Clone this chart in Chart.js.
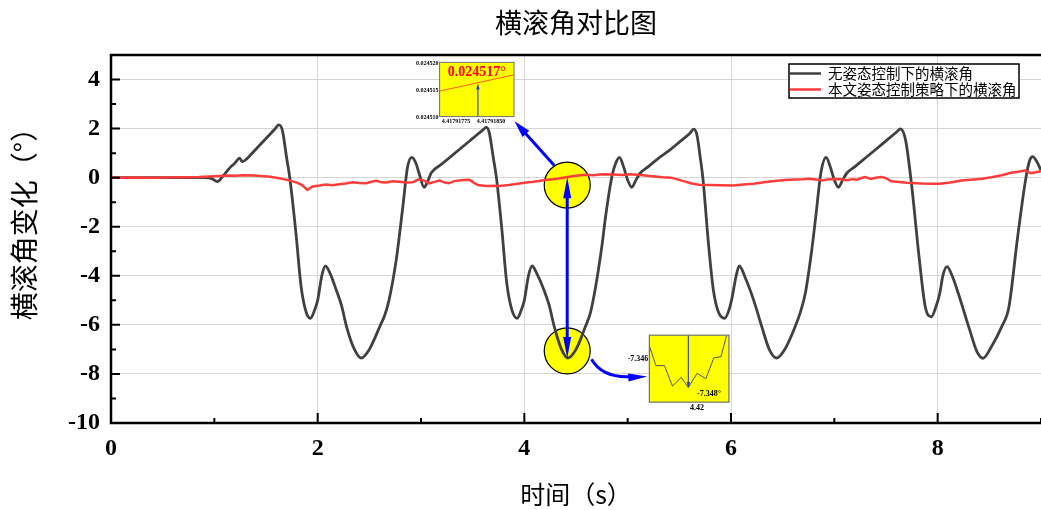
<!DOCTYPE html>
<html>
<head>
<meta charset="utf-8">
<title>横滚角对比图</title>
<script src="https://cdn.jsdelivr.net/npm/chart.js@4"></script>
<style>
  html, body { margin: 0; padding: 0; background: #fff; }
  canvas { display: block; }
</style>
</head>
<body>
<canvas id="rollChart" width="1041" height="510"></canvas>
<script>
// 无姿态控制下的横滚角: time (s) / angle (deg)
const timeFree = [0, 0.5, 0.9, 0.97, 1.03, 1.08, 1.15, 1.2, 1.245, 1.27, 1.3, 1.4, 1.5, 1.58, 1.625, 1.66, 1.7, 1.73, 1.79, 1.84,
  1.89, 1.93, 1.97, 2.0, 2.04, 2.075, 2.12, 2.18, 2.23, 2.28, 2.35, 2.42, 2.5, 2.6, 2.65, 2.69, 2.76, 2.82, 2.87, 2.91,
  2.95, 2.98, 3.03, 3.06, 3.1, 3.2, 3.3, 3.4, 3.5, 3.6, 3.63, 3.66, 3.7, 3.73, 3.78, 3.83, 3.88, 3.93, 3.97, 4.0,
  4.04, 4.075, 4.12, 4.19, 4.24, 4.29, 4.36, 4.42, 4.5, 4.59, 4.64, 4.69, 4.75, 4.79, 4.85, 4.885, 4.92, 4.96, 5.0, 5.04,
  5.08, 5.12, 5.2, 5.3, 5.4, 5.5, 5.6, 5.64, 5.67, 5.7, 5.73, 5.78, 5.83, 5.88, 5.94, 5.98, 6.01, 6.05, 6.08, 6.14,
  6.22, 6.3, 6.37, 6.44, 6.52, 6.62, 6.67, 6.72, 6.78, 6.82, 6.87, 6.92, 6.96, 7.0, 7.04, 7.08, 7.12, 7.2, 7.3, 7.4,
  7.5, 7.6, 7.64, 7.69, 7.75, 7.82, 7.88, 7.94, 7.98, 8.02, 8.05, 8.09, 8.14, 8.2, 8.3, 8.38, 8.44, 8.52, 8.62, 8.69,
  8.77, 8.85, 8.89, 8.92, 8.96, 9.0];
const rollFree = [0, 0, 0, -0.03, -0.16, 0.05, 0.4, 0.6, 0.8, 0.65, 0.72, 1.15, 1.6, 1.95, 2.15, 1.9, 0.8, 0, -2.27, -4.45,
  -5.5, -5.73, -5.4, -5.0, -4.0, -3.6, -3.9, -4.58, -5.2, -6.08, -6.95, -7.35, -7.0, -6.08, -5.6, -5.0, -3.36, -1.34, 0.43, 0.83,
  0.6, 0.2, -0.39, -0.2, 0.2, 0.55, 0.9, 1.25, 1.6, 1.95, 2.05, 1.85, 0.8, 0.0, -2.0, -4.3, -5.4, -5.73, -5.4, -5.0,
  -4.0, -3.6, -3.9, -4.58, -5.2, -6.08, -7.0, -7.35, -7.0, -6.08, -5.5, -4.45, -2.8, -1.47, 0.1, 0.6, 0.83, 0.45, -0.1, -0.39,
  -0.1, 0.18, 0.45, 0.8, 1.1, 1.45, 1.8, 1.98, 1.75, 0.9, -0.1, -2.6, -4.6, -5.5, -5.73, -5.4, -4.9, -4.0, -3.6, -4.1,
  -5.0, -6.1, -7.0, -7.35, -7.0, -6.08, -5.5, -4.7, -3.0, -1.6, 0.2, 0.83, 0.45, -0.1, -0.39, -0.1, 0.18, 0.45, 0.8, 1.15,
  1.5, 1.85, 1.99, 1.52, -0.38, -3.23, -5.26, -5.67, -5.3, -4.72, -4.0, -3.63, -4.0, -4.72, -6.07, -7.09, -7.36, -6.89, -6.07, -5.26,
  -2.55, -0.11, 0.7, 0.86, 0.65, 0.3];

// 本文姿态控制策略下的横滚角: time (s) / angle (deg)
const timeCtrl = [0, 0.2, 0.4, 0.55, 0.7, 0.85, 0.95, 1.05, 1.15, 1.2, 1.28, 1.38, 1.45, 1.52, 1.6, 1.67, 1.73, 1.8, 1.85, 1.9,
  1.95, 2.02, 2.08, 2.14, 2.21, 2.27, 2.34, 2.4, 2.47, 2.52, 2.57, 2.62, 2.67, 2.72, 2.79, 2.85, 2.92, 2.97, 3.02, 3.08,
  3.13, 3.18, 3.23, 3.27, 3.32, 3.37, 3.42, 3.47, 3.51, 3.55, 3.63, 3.7, 3.76, 3.85, 3.95, 4.02, 4.09, 4.17, 4.25, 4.33,
  4.42, 4.5, 4.59, 4.67, 4.75, 4.86, 4.95, 5.02, 5.09, 5.17, 5.26, 5.34, 5.42, 5.49, 5.55, 5.62, 5.69, 5.8, 5.9, 6.02,
  6.12, 6.22, 6.32, 6.42, 6.52, 6.62, 6.7, 6.75, 6.82, 6.88, 6.95, 7.05, 7.12, 7.18, 7.22, 7.27, 7.3, 7.35, 7.4, 7.45,
  7.5, 7.55, 7.63, 7.7, 7.75, 7.85, 7.95, 8.02, 8.12, 8.25, 8.35, 8.43, 8.52, 8.62, 8.71, 8.78, 8.85, 8.9, 8.95, 9.0];
const rollCtrl = [0, 0.01, 0, 0.01, 0.02, 0.03, 0.05, 0.07, 0.09, 0.08, 0.1, 0.09, 0.07, 0.05, 0.0, -0.06, -0.12, -0.2, -0.3, -0.5,
  -0.36, -0.32, -0.28, -0.31, -0.27, -0.24, -0.19, -0.22, -0.23, -0.17, -0.13, -0.19, -0.2, -0.15, -0.17, -0.2, -0.19, -0.08, -0.1, -0.23,
  -0.17, -0.12, -0.2, -0.23, -0.14, -0.12, -0.1, -0.09, -0.2, -0.3, -0.34, -0.33, -0.34, -0.3, -0.24, -0.2, -0.17, -0.12, -0.07, -0.03,
  0.03, 0.08, 0.12, 0.1, 0.14, 0.13, 0.11, 0.14, 0.12, 0.09, 0.05, 0.02, 0.0, -0.08, -0.15, -0.24, -0.29, -0.3, -0.31, -0.32,
  -0.28, -0.25, -0.19, -0.14, -0.1, -0.07, -0.06, -0.04, -0.07, -0.11, -0.06, -0.05, -0.1, -0.06, -0.08, 0.0, 0.03, -0.05, 0.0, 0.03,
  -0.02, -0.15, -0.18, -0.21, -0.22, -0.24, -0.25, -0.25, -0.2, -0.11, -0.07, -0.04, 0.02, 0.1, 0.2, 0.24, 0.3, 0.18, 0.22, 0.26];

const seriesNames = ["无姿态控制下的横滚角", "本文姿态控制策略下的横滚角"];
const xTickValues = [0, 2, 4, 6, 8];
const yTickValues = [-10, -8, -6, -4, -2, 0, 2, 4];

// zoomed-in callouts
const peakTime = 4.42, peakValue = 0.024517, valleyValue = -7.348;
const topInsetYLabels = ["0.024520", "0.024515", "0.024510"];
const topInsetXLabels = ["4.41791775", "4.41791850"];
const lowInsetLine = [[0, 0.16], [0.083, 0.455], [0.19, 0.455], [0.29, 0.76], [0.4, 0.63], [0.49, 0.78],
  [0.6, 0.57], [0.71, 0.65], [0.81, 0.34], [0.9, 0.32], [0.97, 0.01]];

const SERIF = "'Liberation Serif', 'Times New Roman', serif";
const CJK = "'Noto Sans CJK SC', sans-serif";

function arrowHead(ctx, x0, y0, x1, y1, len, half) {
  const a = Math.atan2(y1 - y0, x1 - x0);
  const bx = x1 - len * Math.cos(a), by = y1 - len * Math.sin(a);
  ctx.beginPath();
  ctx.moveTo(x1, y1);
  ctx.lineTo(bx + half * Math.sin(a), by - half * Math.cos(a));
  ctx.lineTo(bx - half * Math.sin(a), by + half * Math.cos(a));
  ctx.closePath();
  ctx.fill();
}

const decorations = {
  id: "decorations",
  beforeDatasetsDraw(chart) {
    const { ctx, scales: { x, y } } = chart;
    ctx.save();
    ctx.fillStyle = "#ffff00";
    ctx.strokeStyle = "#000";
    ctx.lineWidth = 1.2;
    [-0.3, -7.06].forEach(v => {
      ctx.beginPath();
      ctx.arc(x.getPixelForValue(4.415), y.getPixelForValue(v), 23, 0, Math.PI * 2);
      ctx.fill();
      ctx.stroke();
    });
    ctx.restore();
  },
  afterDatasetsDraw(chart) {
    const { ctx, scales: { x, y } } = chart;
    const px = t => x.getPixelForValue(t), py = v => y.getPixelForValue(v);
    ctx.save();

    // blue arrows
    ctx.strokeStyle = "#0000ff";
    ctx.fillStyle = "#0000ff";
    ctx.lineWidth = 3;
    const ax = px(4.415), ayTop = py(0.02), ayBot = py(-7.35);
    ctx.beginPath();
    ctx.moveTo(ax, ayTop + 14);
    ctx.lineTo(ax, ayBot - 14);
    ctx.stroke();
    arrowHead(ctx, ax, ayBot, ax, ayTop, 21, 4);
    arrowHead(ctx, ax, ayTop, ax, ayBot, 21, 4);

    const d0x = px(4.29), d0y = py(0.5), d1x = px(3.905), d1y = py(2.3);
    ctx.beginPath();
    ctx.moveTo(d0x, d0y);
    ctx.lineTo(d1x + (d0x - d1x) * 0.2, d1y + (d0y - d1y) * 0.2);
    ctx.stroke();
    arrowHead(ctx, d0x, d0y, d1x, d1y, 17, 4.5);

    const c0x = px(4.65), c0y = py(-7.4), cCx = px(4.76), cCy = py(-8.2), c1x = px(5.19), c1y = py(-8.1);
    ctx.beginPath();
    ctx.moveTo(c0x, c0y);
    ctx.quadraticCurveTo(cCx, cCy, c1x - 14, c1y);
    ctx.stroke();
    arrowHead(ctx, cCx, cCy, c1x, c1y, 19, 4);

    // upper inset
    let x0 = px(3.18), x1 = px(3.90), y0 = py(4.70), y1 = py(2.49);
    let w = x1 - x0, h = y1 - y0;
    ctx.fillStyle = "#ffff00";
    ctx.fillRect(x0, y0, w, h);
    ctx.strokeStyle = "#ff5a1a";
    ctx.lineWidth = 1;
    ctx.beginPath();
    ctx.moveTo(x0, y0 + 0.53 * h);
    ctx.lineTo(x1, y0 + 0.23 * h);
    ctx.stroke();
    ctx.strokeStyle = "#5a6a9a";
    ctx.lineWidth = 1.5;
    ctx.beginPath();
    ctx.moveTo(x0 + 0.515 * w, y1);
    ctx.lineTo(x0 + 0.515 * w, y0 + 0.44 * h);
    ctx.stroke();
    ctx.fillStyle = "#2f40d0";
    arrowHead(ctx, x0 + 0.515 * w, y1, x0 + 0.515 * w, y0 + 0.39 * h, 6, 1.8);
    ctx.strokeStyle = "#707070";
    ctx.lineWidth = 1;
    ctx.strokeRect(x0, y0, w, h);
    ctx.fillStyle = "#ff0000";
    ctx.font = "bold 14px " + SERIF;
    ctx.textAlign = "center";
    ctx.textBaseline = "middle";
    ctx.fillText(peakValue.toFixed(6) + "°", x0 + 0.5 * w, y0 + 0.19 * h);
    ctx.fillStyle = "#000";
    ctx.font = "bold 6px " + SERIF;
    ctx.textAlign = "right";
    topInsetYLabels.forEach((s, i) => ctx.fillText(s, x0 - 1, y0 + i * 0.5 * h + 1));
    ctx.textAlign = "center";
    ctx.fillText(topInsetXLabels[0], x0 + 0.22 * w, y1 + 5);
    ctx.fillText(topInsetXLabels[1], x0 + 0.69 * w, y1 + 5);

    // lower inset
    x0 = px(5.21); x1 = px(5.98); y0 = py(-6.42); y1 = py(-9.15);
    w = x1 - x0; h = y1 - y0;
    ctx.fillStyle = "#ffff00";
    ctx.fillRect(x0, y0, w, h);
    ctx.strokeStyle = "#505050";
    ctx.lineWidth = 1;
    ctx.beginPath();
    lowInsetLine.forEach(([u, v], i) => {
      const qx = x0 + u * w, qy = y0 + v * h;
      if (i === 0) ctx.moveTo(qx, qy); else ctx.lineTo(qx, qy);
    });
    ctx.stroke();
    ctx.strokeStyle = "#4050b0";
    ctx.lineWidth = 1.2;
    ctx.beginPath();
    ctx.moveTo(x0 + 0.49 * w, y0);
    ctx.lineTo(x0 + 0.49 * w, y0 + 0.72 * h);
    ctx.stroke();
    ctx.fillStyle = "#3040c0";
    arrowHead(ctx, x0 + 0.49 * w, y0, x0 + 0.49 * w, y0 + 0.79 * h, 6, 1.8);
    ctx.strokeStyle = "#707070";
    ctx.strokeRect(x0, y0, w, h);
    ctx.fillStyle = "#000";
    ctx.font = "bold 8px " + SERIF;
    ctx.textAlign = "right";
    ctx.fillText("-7.346", x0 - 1, y0 + 0.35 * h);
    ctx.textAlign = "left";
    ctx.fillText(valleyValue.toFixed(3) + "°", x0 + 0.6 * w, y0 + 0.87 * h);
    ctx.textAlign = "center";
    ctx.fillText(peakTime.toFixed(2), x0 + 0.6 * w, y1 + 6);

    // legend
    const lx = chart.chartArea.right - 252, ly = 64;
    ctx.fillStyle = "#fff";
    ctx.fillRect(lx, ly, 230, 34);
    ctx.strokeStyle = "#000";
    ctx.lineWidth = 1.5;
    ctx.strokeRect(lx, ly, 230, 34);
    ctx.font = "14.5px " + CJK;
    ctx.textAlign = "left";
    ctx.textBaseline = "middle";
    [["#404040", seriesNames[0]], ["#ff3c3c", seriesNames[1]]].forEach(([col, name], i) => {
      const yy = ly + 9.5 + i * 16;
      ctx.strokeStyle = col;
      ctx.lineWidth = 2.5;
      ctx.beginPath();
      ctx.moveTo(lx + 1, yy);
      ctx.lineTo(lx + 32, yy);
      ctx.stroke();
      ctx.fillStyle = "#000";
      ctx.fillText(name, lx + 39, yy);
    });
    ctx.restore();
  },
  afterDraw(chart) {
    const { ctx, chartArea: a, scales: { x, y } } = chart;
    ctx.save();
    ctx.strokeStyle = "#000";
    ctx.lineWidth = 2.5;
    ctx.beginPath();
    ctx.moveTo(a.right, a.top);
    ctx.lineTo(a.left, a.top);
    ctx.lineTo(a.left, a.bottom);
    ctx.lineTo(a.right, a.bottom);
    ctx.stroke();
    ctx.lineWidth = 2;
    ctx.beginPath();
    for (let v = -10; v <= 5; v++) {
      const yy = y.getPixelForValue(v), len = v % 2 === 0 ? 9 : 5;
      ctx.moveTo(a.left, yy);
      ctx.lineTo(a.left + len, yy);
    }
    for (let t = 1; t <= 9; t++) {
      const xx = x.getPixelForValue(t), len = t % 2 === 0 ? 10 : 5;
      ctx.moveTo(xx, a.bottom);
      ctx.lineTo(xx, a.bottom - len);
    }
    ctx.stroke();

    ctx.fillStyle = "#000";
    ctx.textAlign = "center";
    ctx.textBaseline = "middle";
    ctx.font = "27px " + CJK;
    ctx.fillText("横滚角对比图", (a.left + a.right) / 2, 23);
    ctx.font = "25px " + CJK;
    ctx.fillText("时间（s）", (a.left + a.right) / 2, 494);
    ctx.translate(24, 217);
    ctx.rotate(-Math.PI / 2);
    ctx.font = "28px " + CJK;
    ctx.fillText("横滚角变化（°）", 0, 0);
    ctx.restore();
  }
};

new Chart(document.getElementById("rollChart"), {
  type: "line",
  data: {
    datasets: [
      {
        label: seriesNames[0],
        data: timeFree.map((t, i) => ({ x: t, y: rollFree[i] })),
        borderColor: "#404040",
        borderWidth: 2.8,
        pointRadius: 0,
        cubicInterpolationMode: "monotone",
        order: 2
      },
      {
        label: seriesNames[1],
        data: timeCtrl.map((t, i) => ({ x: t, y: rollCtrl[i] })),
        borderColor: "#ff3c3c",
        borderWidth: 2.5,
        pointRadius: 0,
        tension: 0,
        order: 1
      }
    ]
  },
  options: {
    responsive: false,
    animation: false,
    devicePixelRatio: 1,
    layout: { padding: { top: 55, left: 0, right: 0, bottom: 0 } },
    plugins: { legend: { display: false }, title: { display: false }, tooltip: { enabled: false } },
    scales: {
      x: {
        type: "linear",
        min: 0,
        max: 9,
        afterBuildTicks: s => { s.ticks = xTickValues.map(v => ({ value: v })); },
        afterFit: s => { s.height = 87; },
        border: { display: false },
        grid: { color: "#d6d6d6", lineWidth: 1, drawTicks: false },
        ticks: { color: "#000", padding: 11, maxRotation: 0, font: { family: SERIF, size: 24, weight: "bold" } }
      },
      y: {
        min: -10,
        max: 5,
        afterBuildTicks: s => { s.ticks = yTickValues.map(v => ({ value: v })); },
        afterFit: s => { s.width = 111; },
        border: { display: false },
        grid: { color: "#d6d6d6", lineWidth: 1, drawTicks: false },
        ticks: { color: "#000", padding: 11, font: { family: SERIF, size: 24, weight: "bold" } }
      }
    }
  },
  plugins: [decorations]
});
</script>
</body>
</html>
